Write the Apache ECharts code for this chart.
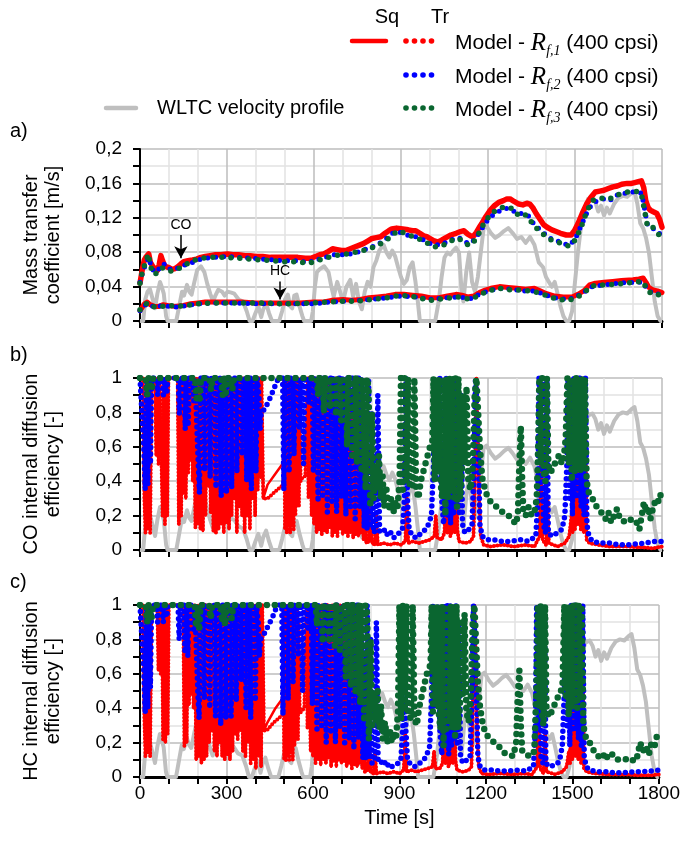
<!DOCTYPE html>
<html><head><meta charset="utf-8">
<script src="https://cdn.jsdelivr.net/npm/echarts/dist/echarts.min.js"></script>
<style>html,body{margin:0;padding:0;background:#fff}#c{width:683px;height:858px}</style>
</head><body><div id="c"></div>
<script>
const FONT = '"Liberation Sans", Arial, sans-serif';
const SERIF = '"Liberation Serif", "Times New Roman", serif';

// ---- X ticks ----
const timeTicks = [0, 300, 600, 900, 1200, 1500, 1800];

// ---- WLTC velocity profile [s, km/h] ----
const wltcVelocity = [[0,0],[11,0],[18,22],[26,30],[34,33],[44,22],[52,13],[60,28],[69,40],[76,34],[82,28],[90,5],[95,0],[125,0],[135,15],[145,30],[152,26],[162,37],[170,30],[178,27],[186,38],[197,52],[210,56],[222,50],[232,38],[242,28],[252,20],[260,26],[270,32],[283,30],[292,26],[302,30],[315,29],[325,28],[340,22],[355,20],[368,10],[378,0],[388,0],[398,8],[408,15],[418,4],[425,12],[435,18],[445,8],[455,0],[480,0],[490,10],[500,22],[510,27],[518,15],[525,13],[532,26],[540,27],[550,15],[560,5],[566,0],[590,0],[596,10],[603,35],[610,50],[620,53],[635,56],[650,50],[660,35],[668,25],[680,40],[690,30],[700,20],[712,35],[725,42],[735,25],[745,38],[755,20],[765,12],[775,30],[785,40],[795,35],[805,55],[815,62],[825,72],[840,78],[850,70],[860,65],[870,72],[880,66],[890,55],[900,45],[910,38],[920,42],[930,55],[940,60],[950,40],[958,20],[965,0],[1018,0],[1030,20],[1040,45],[1050,65],[1060,70],[1070,68],[1080,72],[1090,75],[1100,70],[1108,35],[1115,20],[1125,50],[1135,70],[1145,40],[1155,30],[1165,45],[1175,70],[1185,95],[1195,97],[1210,90],[1225,85],[1240,88],[1255,92],[1270,95],[1285,90],[1300,84],[1315,86],[1330,80],[1345,86],[1360,78],[1375,60],[1390,55],[1400,45],[1410,40],[1420,35],[1430,40],[1440,28],[1450,15],[1460,5],[1470,0],[1480,0],[1490,10],[1500,40],[1510,70],[1520,95],[1530,112],[1545,125],[1560,127],[1570,122],[1580,112],[1590,118],[1600,108],[1610,116],[1620,110],[1635,120],[1650,126],[1665,128],[1680,127],[1695,131],[1705,133],[1715,120],[1725,100],[1735,95],[1745,85],[1755,70],[1765,45],[1775,20],[1785,5],[1795,0],[1800,0]];

// ---- Panel a: mass transfer coefficient [m/s] ----
const coRf1A = [[0,0.044],[8,0.06],[15,0.071],[22,0.075],[30,0.078],[36,0.068],[45,0.063],[52,0.061],[60,0.059],[66,0.065],[72,0.076],[78,0.07],[85,0.064],[92,0.063],[100,0.062],[110,0.06],[121,0.061],[130,0.063],[140,0.066],[151,0.069],[165,0.07],[181,0.071],[195,0.072],[210,0.074],[225,0.075],[242,0.076],[260,0.077],[280,0.077],[302,0.078],[320,0.077],[340,0.077],[362,0.076],[380,0.076],[400,0.075],[423,0.075],[450,0.074],[483,0.074],[510,0.074],[544,0.074],[570,0.073],[589,0.073],[605,0.075],[620,0.077],[634,0.078],[650,0.081],[664,0.084],[680,0.083],[695,0.082],[710,0.082],[725,0.084],[740,0.086],[755,0.088],[770,0.09],[785,0.093],[800,0.096],[815,0.097],[830,0.098],[845,0.102],[858,0.105],[868,0.107],[885,0.108],[906,0.107],[925,0.106],[940,0.105],[951,0.105],[965,0.102],[978,0.099],[989,0.098],[1005,0.095],[1015,0.093],[1027,0.092],[1040,0.094],[1055,0.097],[1072,0.1],[1090,0.102],[1105,0.104],[1117,0.105],[1130,0.101],[1140,0.099],[1148,0.098],[1160,0.103],[1170,0.109],[1178,0.113],[1190,0.12],[1200,0.125],[1208,0.129],[1222,0.134],[1237,0.138],[1253,0.14],[1265,0.142],[1276,0.142],[1290,0.139],[1306,0.136],[1320,0.135],[1334,0.137],[1344,0.136],[1356,0.131],[1366,0.125],[1380,0.118],[1392,0.112],[1404,0.109],[1420,0.106],[1435,0.104],[1450,0.102],[1470,0.1],[1487,0.1],[1498,0.105],[1510,0.113],[1525,0.125],[1540,0.136],[1555,0.144],[1570,0.15],[1585,0.151],[1600,0.152],[1615,0.154],[1631,0.156],[1646,0.157],[1661,0.159],[1680,0.16],[1695,0.16],[1706,0.161],[1718,0.162],[1729,0.163],[1737,0.155],[1744,0.14],[1752,0.132],[1759,0.129],[1770,0.127],[1782,0.125],[1792,0.118],[1800,0.109]];
const coRf2A = [[0,0.045],[10,0.058],[20,0.066],[30,0.074],[40,0.062],[50,0.057],[60,0.058],[75,0.066],[90,0.066],[105,0.06],[120,0.06],[140,0.063],[160,0.066],[180,0.068],[200,0.071],[230,0.073],[260,0.074],[300,0.075],[340,0.074],[380,0.073],[420,0.072],[460,0.071],[500,0.07],[540,0.07],[580,0.068],[610,0.071],[640,0.074],[670,0.077],[700,0.077],[730,0.078],[760,0.081],[790,0.085],[820,0.089],[850,0.096],[870,0.102],[890,0.104],[920,0.1],[950,0.098],[980,0.094],[1010,0.088],[1040,0.089],[1070,0.094],[1100,0.097],[1120,0.092],[1140,0.09],[1160,0.097],[1180,0.108],[1200,0.118],[1220,0.124],[1240,0.128],[1260,0.131],[1280,0.13],[1300,0.125],[1320,0.125],[1340,0.122],[1360,0.112],[1380,0.106],[1400,0.1],[1420,0.095],[1440,0.093],[1460,0.09],[1480,0.088],[1500,0.095],[1520,0.11],[1540,0.125],[1560,0.137],[1580,0.14],[1600,0.142],[1620,0.14],[1640,0.146],[1660,0.148],[1680,0.149],[1700,0.15],[1720,0.15],[1730,0.148],[1740,0.13],[1750,0.112],[1765,0.108],[1780,0.106],[1790,0.102],[1800,0.1]];
const coRf3A = [[0,0.044],[10,0.06],[20,0.068],[28,0.078],[38,0.062],[50,0.054],[62,0.057],[75,0.062],[90,0.06],[105,0.058],[120,0.059],[140,0.062],[160,0.066],[180,0.07],[200,0.072],[230,0.074],[260,0.074],[300,0.074],[340,0.073],[380,0.072],[420,0.071],[460,0.07],[500,0.069],[540,0.069],[580,0.067],[610,0.07],[640,0.073],[670,0.076],[700,0.077],[730,0.079],[760,0.081],[790,0.084],[820,0.088],[850,0.094],[870,0.1],[890,0.105],[920,0.101],[950,0.097],[980,0.093],[1010,0.086],[1040,0.087],[1070,0.093],[1100,0.096],[1120,0.09],[1140,0.088],[1160,0.096],[1180,0.11],[1200,0.12],[1220,0.127],[1240,0.131],[1260,0.133],[1280,0.131],[1300,0.124],[1320,0.126],[1340,0.12],[1360,0.11],[1380,0.104],[1400,0.098],[1420,0.094],[1440,0.092],[1460,0.089],[1480,0.087],[1500,0.094],[1520,0.108],[1540,0.127],[1560,0.14],[1580,0.142],[1600,0.143],[1620,0.142],[1640,0.146],[1660,0.148],[1680,0.15],[1700,0.15],[1720,0.151],[1730,0.146],[1740,0.128],[1750,0.11],[1765,0.11],[1780,0.105],[1790,0.1],[1800,0.1]];
const hcRf1A = [[0,0.012],[8,0.016],[15,0.02],[25,0.022],[35,0.019],[50,0.017],[65,0.017],[80,0.019],[95,0.018],[120,0.017],[150,0.018],[175,0.02],[200,0.021],[225,0.022],[250,0.022],[300,0.022],[350,0.022],[400,0.021],[450,0.021],[500,0.021],[550,0.021],[600,0.022],[630,0.022],[660,0.024],[700,0.025],[730,0.024],[760,0.025],[790,0.027],[820,0.028],[850,0.029],[880,0.031],[910,0.031],[940,0.03],[970,0.029],[1000,0.027],[1030,0.027],[1060,0.029],[1090,0.031],[1110,0.03],[1130,0.028],[1150,0.029],[1170,0.033],[1190,0.036],[1210,0.038],[1240,0.04],[1270,0.039],[1300,0.038],[1330,0.037],[1360,0.038],[1380,0.035],[1400,0.032],[1430,0.029],[1460,0.028],[1490,0.028],[1510,0.031],[1530,0.035],[1550,0.042],[1570,0.044],[1600,0.045],[1630,0.046],[1660,0.047],[1700,0.048],[1720,0.049],[1735,0.05],[1745,0.045],[1755,0.039],[1770,0.036],[1785,0.035],[1800,0.033]];
const hcRf2A = [[0,0.012],[15,0.018],[30,0.02],[50,0.016],[75,0.018],[100,0.017],[130,0.016],[160,0.018],[200,0.02],[250,0.021],[300,0.021],[400,0.02],[500,0.02],[600,0.02],[650,0.022],[700,0.023],[750,0.024],[800,0.025],[850,0.027],[900,0.029],[950,0.028],[1000,0.025],[1050,0.027],[1100,0.028],[1140,0.026],[1170,0.031],[1200,0.035],[1240,0.038],[1280,0.037],[1320,0.035],[1360,0.035],[1400,0.03],[1440,0.026],[1480,0.025],[1520,0.031],[1560,0.04],[1600,0.042],[1650,0.044],[1700,0.045],[1735,0.045],[1750,0.036],[1770,0.032],[1800,0.031]];
const hcRf3A = [[0,0.013],[15,0.019],[30,0.021],[50,0.016],[75,0.017],[100,0.018],[130,0.017],[160,0.018],[200,0.02],[250,0.021],[300,0.021],[400,0.021],[500,0.02],[600,0.021],[650,0.022],[700,0.023],[750,0.023],[800,0.025],[850,0.027],[900,0.03],[950,0.028],[1000,0.024],[1050,0.026],[1100,0.028],[1140,0.025],[1170,0.03],[1200,0.035],[1240,0.038],[1280,0.036],[1320,0.036],[1360,0.034],[1400,0.03],[1440,0.025],[1480,0.024],[1520,0.03],[1560,0.041],[1600,0.042],[1650,0.043],[1700,0.045],[1735,0.046],[1750,0.035],[1770,0.031],[1800,0.03]];

// ---- Panel b: CO internal diffusion efficiency [-] ----
const coRedEarly = [[0,1],[10,1],[15,0.3],[19,0.1],[23,1],[27,0.12],[31,1],[35,0.1],[40,1],[52,1],[56,0.55],[60,1],[64,0.5],[68,1],[74,1],[78,0.2],[82,1],[86,0.15],[90,1],[94,0.2],[98,1],[130,1],[134,0.15],[138,1],[142,0.2],[146,1],[150,0.33],[154,1],[158,0.3],[162,1],[166,0.45],[170,1],[174,0.52],[178,1],[182,0.4],[186,1],[191,0.13],[195,1],[200,0.15],[204,1],[208,0.12],[212,1],[217,0.11],[221,1],[226,0.2],[230,1],[235,0.37],[239,1],[244,0.22],[248,1],[253,0.11],[257,1],[262,0.1],[266,1],[271,0.12],[275,1],[280,0.15],[284,1],[289,0.1],[293,1],[298,0.16],[302,1],[307,0.12],[311,1],[316,0.2],[320,1],[325,0.3],[329,1],[334,0.1],[338,1],[343,0.25],[347,1],[352,0.2],[356,1],[361,0.1],[365,1],[370,0.2],[374,1],[379,0.12],[383,1],[388,0.3],[392,1],[397,0.2],[401,1],[406,0.35],[410,1],[415,0.42],[419,1],[425,0.3]];
const coTrMid = [[440,0.3],[460,0.33],[480,0.36],[494,0.38],[497,1],[500,0.12],[503,1],[506,0.1],[509,1],[512,0.14],[515,1],[518,0.1],[521,0.95],[524,0.15],[527,1],[530,0.12],[533,1],[536,0.2],[539,0.95],[542,0.3],[545,1],[548,0.25],[551,0.9],[554,0.4],[560,0.42],[570,0.43],[575,0.44],[578,1],[581,0.3],[584,1]];
const coSqMid = [[440,0.38],[470,0.45],[500,0.52],[530,0.57],[560,0.61],[585,0.64],[588,1]];
const coRedLate = [[592,0.2],[596,1],[600,0.15],[604,1],[609,0.1],[613,1],[618,0.12],[622,1],[627,0.09],[631,1],[636,0.11],[640,1],[645,0.1],[649,1],[654,0.13],[658,1],[663,0.08],[667,1],[672,0.1],[676,1],[681,0.08],[685,1],[690,0.12],[694,1],[699,0.09],[703,1],[708,0.1],[712,0.9],[717,0.08],[721,1],[726,0.1],[730,0.85],[735,0.07],[739,1],[744,0.09],[748,0.8],[753,0.08],[757,0.9],[762,0.1],[766,0.6],[771,0.06],[776,0.5],[780,0.04],[790,0.05],[795,0.3],[800,0.04],[810,0.03],[815,0.2],[820,0.03],[840,0.04],[860,0.03],[880,0.04],[900,0.03],[915,0.05],[920,0.3],[925,0.04],[940,0.05],[960,0.04],[980,0.05],[1000,0.06],[1015,0.08],[1020,0.2],[1025,0.07],[1040,0.06],[1050,0.1],[1055,0.5],[1060,0.1],[1065,0.6],[1070,0.08],[1078,0.12],[1082,0.9],[1086,0.1],[1090,0.95],[1094,0.12],[1100,0.05],[1120,0.04],[1140,0.05],[1150,0.08],[1155,0.4],[1160,1],[1166,1],[1170,0.3],[1175,0.08],[1185,0.03],[1210,0.02],[1250,0.03],[1290,0.02],[1330,0.03],[1360,0.02],[1378,0.08],[1383,0.5],[1388,0.06],[1400,0.03],[1405,0.3],[1410,0.04],[1440,0.02],[1465,0.04],[1480,0.08],[1488,0.2],[1492,0.1],[1496,0.9],[1500,0.12],[1505,1],[1510,0.15],[1515,1],[1520,0.12],[1525,1],[1530,0.1],[1535,0.95],[1540,0.06],[1550,0.04],[1580,0.03],[1620,0.02],[1680,0.02],[1730,0.015],[1770,0.01],[1800,0.02]];
const coRf2B = [[0,1],[13,0.6],[18,0.35],[22,1],[27,0.38],[31,1],[36,0.5],[40,1],[58,1],[61,0.9],[64,1],[78,1],[81,0.9],[84,1],[90,1],[93,0.92],[96,1],[132,1],[136,0.79],[140,1],[152,1],[156,0.7],[160,1],[166,0.72],[170,1],[182,1],[186,0.85],[190,1],[196,1],[201,0.5],[205,0.33],[209,1],[218,1],[223,0.46],[227,1],[238,1],[242,0.42],[246,1],[258,1],[262,0.36],[266,1],[276,1],[280,0.31],[284,1],[294,1],[298,0.33],[302,1],[312,1],[316,0.36],[320,1],[330,1],[334,0.45],[338,1],[348,1],[352,0.55],[356,1],[364,1],[368,0.4],[372,1],[380,1],[384,0.35],[388,1],[396,1],[400,0.45],[404,1],[410,0.9],[414,0.7],[418,0.8],[430,0.82],[445,0.87],[460,0.93],[472,0.98],[480,1],[492,1],[496,0.35],[500,1],[510,1],[514,0.45],[518,1],[527,1],[531,0.55],[535,1],[545,1],[549,0.7],[553,1],[560,1],[564,0.5],[568,1],[578,1],[582,0.85],[586,1],[594,1],[598,0.45],[602,1],[610,1],[614,0.28],[618,1],[626,1],[630,0.3],[634,1],[642,1],[646,0.22],[650,1],[658,1],[662,0.28],[666,1],[674,1],[678,0.22],[682,1],[690,1],[694,0.3],[698,1],[706,1],[710,0.2],[714,1],[722,1],[726,0.25],[730,1],[738,1],[742,0.18],[746,1],[754,1],[758,0.25],[762,1],[768,0.9],[773,0.13],[778,0.7],[783,0.12],[788,1],[794,0.13],[800,0.8],[805,0.1],[815,0.12],[820,0.9],[826,0.11],[835,0.1],[845,0.12],[855,0.08],[865,0.1],[875,0.07],[885,0.09],[895,0.1],[905,0.12],[912,0.3],[917,1],[922,0.3],[928,0.12],[940,0.08],[955,0.07],[970,0.1],[985,0.12],[995,0.15],[1005,0.2],[1012,0.5],[1016,1],[1020,0.4],[1024,1],[1030,0.5],[1034,1],[1040,0.3],[1047,0.15],[1052,0.4],[1056,1],[1061,0.2],[1066,1],[1071,0.15],[1076,1],[1081,0.2],[1086,1],[1091,0.25],[1096,1],[1101,0.2],[1106,0.9],[1112,0.15],[1120,0.1],[1135,0.12],[1145,0.15],[1152,0.5],[1157,1],[1162,1],[1167,0.6],[1172,0.15],[1180,0.08],[1195,0.06],[1220,0.06],[1250,0.05],[1280,0.05],[1310,0.06],[1340,0.05],[1365,0.08],[1372,0.3],[1376,1],[1381,0.3],[1386,1],[1391,0.15],[1398,0.1],[1403,1],[1408,0.1],[1420,0.08],[1440,0.1],[1455,0.12],[1465,0.2],[1472,0.5],[1476,1],[1481,0.3],[1486,1],[1491,0.2],[1496,1],[1501,0.3],[1506,1],[1511,0.3],[1516,1],[1521,0.25],[1526,1],[1531,0.2],[1536,1],[1541,0.15],[1548,0.08],[1560,0.05],[1590,0.04],[1620,0.04],[1650,0.03],[1680,0.03],[1710,0.035],[1740,0.04],[1770,0.05],[1800,0.05]];
const coRf3B = [[0,1],[20,1],[25,0.9],[30,1],[40,0.93],[45,1],[190,1],[195,0.88],[200,1],[205,0.86],[210,1],[240,1],[245,0.93],[250,1],[280,1],[285,0.9],[290,1],[295,0.89],[300,1],[312,1],[318,0.93],[324,1],[600,1],[610,1],[614,0.9],[618,1],[630,1],[634,0.8],[638,1],[652,1],[656,0.82],[660,1],[672,1],[676,0.78],[680,1],[690,1],[694,0.75],[698,1],[710,1],[714,0.6],[718,1],[728,1],[732,0.55],[736,1],[744,1],[748,0.5],[752,1],[760,1],[764,0.45],[768,1],[774,1],[778,0.35],[782,1],[788,0.95],[794,0.25],[800,0.8],[806,0.3],[812,0.5],[818,0.35],[824,0.55],[830,0.3],[836,0.45],[842,0.25],[850,0.35],[858,0.23],[866,0.3],[874,0.22],[882,0.28],[888,0.25],[895,0.4],[900,1],[906,0.35],[912,1],[918,0.4],[924,1],[930,0.38],[940,0.36],[946,1],[952,0.36],[960,0.3],[968,0.4],[976,0.45],[984,0.5],[992,0.55],[1000,0.6],[1008,0.62],[1012,1],[1016,0.4],[1020,1],[1026,0.45],[1030,1],[1036,0.4],[1042,0.3],[1048,1],[1053,0.2],[1058,1],[1063,0.3],[1068,1],[1073,0.35],[1078,1],[1083,0.3],[1088,1],[1093,0.25],[1098,1],[1104,0.3],[1110,0.45],[1115,0.9],[1120,0.5],[1126,0.95],[1132,0.4],[1140,0.35],[1148,0.5],[1154,0.9],[1160,1],[1166,1],[1172,0.6],[1180,0.42],[1190,0.35],[1200,0.3],[1215,0.27],[1230,0.25],[1250,0.22],[1270,0.2],[1285,0.18],[1295,0.15],[1303,0.2],[1308,0.5],[1313,0.72],[1318,0.4],[1322,0.22],[1330,0.2],[1340,0.25],[1350,0.2],[1360,0.22],[1368,0.3],[1373,0.6],[1377,1],[1382,0.5],[1387,1],[1392,0.45],[1398,0.4],[1403,1],[1408,0.5],[1415,0.45],[1425,0.48],[1435,0.52],[1445,0.55],[1455,0.5],[1462,0.55],[1468,0.65],[1474,1],[1479,0.5],[1484,1],[1489,0.4],[1494,1],[1499,0.45],[1504,1],[1509,0.5],[1514,1],[1519,0.45],[1524,1],[1529,0.5],[1534,1],[1540,0.4],[1548,0.33],[1560,0.3],[1575,0.25],[1590,0.22],[1605,0.18],[1615,0.22],[1625,0.16],[1635,0.2],[1645,0.24],[1655,0.18],[1665,0.17],[1680,0.16],[1695,0.18],[1710,0.17],[1722,0.12],[1730,0.2],[1738,0.28],[1745,0.22],[1752,0.25],[1760,0.18],[1770,0.25],[1780,0.3],[1790,0.28],[1800,0.36]];

// ---- Panel c: HC internal diffusion efficiency [-] ----
const hcRedEarly = [[0,1],[10,1],[15,0.35],[19,0.12],[23,1],[27,0.14],[31,1],[35,0.12],[40,1],[60,1],[64,0.62],[68,1],[72,0.6],[76,1],[80,0.22],[84,1],[88,0.2],[92,1],[96,0.25],[100,1],[150,1],[154,0.18],[158,1],[162,0.2],[166,1],[170,0.42],[174,1],[178,0.48],[182,1],[186,0.4],[190,1],[195,0.1],[199,1],[204,0.12],[208,1],[213,0.08],[217,1],[222,0.1],[226,1],[231,0.12],[235,1],[240,0.2],[244,1],[249,0.27],[253,1],[258,0.15],[262,1],[267,0.12],[271,1],[276,0.2],[280,1],[285,0.12],[289,1],[294,0.1],[298,1],[303,0.13],[307,1],[312,0.1],[316,1],[321,0.15],[325,1],[330,0.25],[334,1],[339,0.22],[343,1],[348,0.27],[352,1],[357,0.15],[361,1],[366,0.12],[370,1],[375,0.2],[379,1],[384,0.08],[388,1],[393,0.1],[397,1],[402,0.05],[406,1],[411,0.12],[415,1],[420,0.06],[424,1],[430,0.27]];
const hcTrMid = [[440,0.27],[460,0.31],[480,0.34],[494,0.36],[497,1],[500,0.1],[503,1],[506,0.09],[509,1],[512,0.12],[515,1],[518,0.09],[521,0.95],[524,0.14],[527,1],[530,0.1],[533,1],[536,0.18],[539,0.95],[542,0.28],[545,1],[548,0.22],[551,0.9],[554,0.37],[560,0.38],[570,0.4],[575,0.41],[578,1],[581,0.28],[584,1]];
const hcSqMid = [[440,0.31],[470,0.4],[500,0.47],[530,0.53],[560,0.58],[585,0.62],[588,1]];
const hcRedLate = [[592,0.15],[596,1],[600,0.12],[604,1],[609,0.08],[613,1],[618,0.1],[622,1],[627,0.07],[631,1],[636,0.1],[640,1],[645,0.08],[649,1],[654,0.11],[658,1],[663,0.06],[667,1],[672,0.09],[676,1],[681,0.06],[685,1],[690,0.1],[694,1],[699,0.08],[703,1],[708,0.09],[712,0.9],[717,0.06],[721,1],[726,0.08],[730,0.85],[735,0.05],[739,1],[744,0.07],[748,0.8],[753,0.06],[757,0.9],[762,0.08],[766,0.6],[771,0.05],[776,0.5],[780,0.03],[790,0.04],[795,0.25],[800,0.03],[810,0.02],[815,0.15],[820,0.02],[840,0.03],[860,0.02],[880,0.03],[900,0.02],[915,0.04],[920,0.25],[925,0.03],[940,0.04],[960,0.03],[980,0.04],[1000,0.05],[1015,0.06],[1020,0.15],[1025,0.05],[1040,0.05],[1050,0.08],[1055,0.45],[1060,0.08],[1065,0.55],[1070,0.06],[1078,0.1],[1082,0.9],[1086,0.08],[1090,0.95],[1094,0.1],[1100,0.04],[1120,0.03],[1140,0.04],[1150,0.06],[1155,0.4],[1160,1],[1166,1],[1170,0.25],[1175,0.06],[1185,0.02],[1210,0.015],[1250,0.02],[1290,0.015],[1330,0.02],[1360,0.015],[1378,0.06],[1383,0.45],[1388,0.05],[1400,0.02],[1405,0.25],[1410,0.03],[1440,0.015],[1465,0.03],[1480,0.06],[1488,0.15],[1492,0.08],[1496,0.9],[1500,0.1],[1505,1],[1510,0.12],[1515,1],[1520,0.1],[1525,1],[1530,0.08],[1535,0.95],[1540,0.05],[1550,0.03],[1580,0.02],[1620,0.015],[1680,0.015],[1730,0.01],[1770,0.01],[1800,0.015]];
const hcRf2C = [[0,1],[13,0.62],[18,0.37],[22,1],[27,0.4],[31,1],[36,0.52],[40,1],[58,1],[61,0.9],[64,1],[78,1],[81,0.9],[84,1],[90,1],[93,0.93],[96,1],[132,1],[136,0.8],[140,1],[152,1],[156,0.72],[160,1],[166,0.7],[170,1],[182,1],[186,0.84],[190,1],[196,1],[201,0.48],[205,0.34],[209,1],[218,1],[223,0.45],[227,1],[238,1],[242,0.4],[246,1],[258,1],[262,0.35],[266,1],[276,1],[280,0.3],[284,1],[294,1],[298,0.34],[302,1],[312,1],[316,0.35],[320,1],[330,1],[334,0.44],[338,1],[348,1],[352,0.56],[356,1],[364,1],[368,0.4],[372,1],[380,1],[384,0.34],[388,1],[396,1],[400,0.44],[404,1],[410,0.9],[414,0.7],[418,0.8],[430,0.83],[445,0.88],[460,0.93],[472,0.98],[480,1],[492,1],[496,0.36],[500,1],[510,1],[514,0.45],[518,1],[527,1],[531,0.55],[535,1],[545,1],[549,0.7],[553,1],[560,1],[564,0.5],[568,1],[578,1],[582,0.85],[586,1],[594,1],[598,0.42],[602,1],[610,1],[614,0.26],[618,1],[626,1],[630,0.28],[634,1],[642,1],[646,0.2],[650,1],[658,1],[662,0.25],[666,1],[674,1],[678,0.2],[682,1],[690,1],[694,0.28],[698,1],[706,1],[710,0.18],[714,1],[722,1],[726,0.22],[730,1],[738,1],[742,0.16],[746,1],[754,1],[758,0.22],[762,1],[768,0.9],[773,0.11],[778,0.7],[783,0.1],[788,1],[794,0.11],[800,0.8],[805,0.08],[815,0.1],[820,0.9],[826,0.09],[835,0.08],[845,0.1],[855,0.06],[865,0.08],[875,0.06],[885,0.07],[895,0.08],[905,0.1],[912,0.3],[917,1],[922,0.28],[928,0.1],[940,0.07],[955,0.06],[970,0.08],[985,0.1],[995,0.13],[1005,0.18],[1012,0.5],[1016,1],[1020,0.4],[1024,1],[1030,0.45],[1034,1],[1040,0.28],[1047,0.13],[1052,0.4],[1056,1],[1061,0.18],[1066,1],[1071,0.13],[1076,1],[1081,0.18],[1086,1],[1091,0.22],[1096,1],[1101,0.18],[1106,0.9],[1112,0.12],[1120,0.08],[1135,0.1],[1145,0.12],[1152,0.5],[1157,1],[1162,1],[1167,0.55],[1172,0.12],[1180,0.06],[1195,0.04],[1220,0.04],[1250,0.035],[1280,0.035],[1310,0.04],[1340,0.035],[1365,0.06],[1372,0.3],[1376,1],[1381,0.28],[1386,1],[1391,0.12],[1398,0.08],[1403,1],[1408,0.08],[1420,0.06],[1440,0.07],[1455,0.09],[1465,0.18],[1472,0.5],[1476,1],[1481,0.28],[1486,1],[1491,0.18],[1496,1],[1501,0.28],[1506,1],[1511,0.28],[1516,1],[1521,0.22],[1526,1],[1531,0.18],[1536,1],[1541,0.12],[1548,0.06],[1560,0.04],[1590,0.03],[1620,0.03],[1650,0.025],[1680,0.025],[1710,0.03],[1740,0.03],[1770,0.035],[1800,0.04]];
const hcRf3C = [[0,1],[20,1],[25,0.9],[30,1],[40,0.92],[45,1],[190,1],[195,0.87],[200,1],[205,0.85],[210,1],[240,1],[245,0.92],[250,1],[280,1],[285,0.9],[290,1],[295,0.88],[300,1],[312,1],[318,0.92],[324,1],[600,1],[610,1],[614,0.88],[618,1],[630,1],[634,0.78],[638,1],[652,1],[656,0.8],[660,1],[672,1],[676,0.76],[680,1],[690,1],[694,0.72],[698,1],[710,1],[714,0.58],[718,1],[728,1],[732,0.52],[736,1],[744,1],[748,0.48],[752,1],[760,1],[764,0.42],[768,1],[774,1],[778,0.32],[782,1],[788,0.95],[794,0.22],[800,0.8],[806,0.28],[812,0.48],[818,0.32],[824,0.52],[830,0.28],[836,0.42],[842,0.22],[850,0.32],[858,0.2],[866,0.28],[874,0.2],[882,0.26],[888,0.22],[895,0.38],[900,1],[906,0.33],[912,1],[918,0.38],[924,1],[930,0.36],[940,0.34],[946,1],[952,0.34],[960,0.3],[968,0.4],[976,0.46],[984,0.52],[992,0.58],[1000,0.63],[1008,0.65],[1012,1],[1016,0.38],[1020,1],[1026,0.42],[1030,1],[1036,0.38],[1042,0.28],[1048,1],[1053,0.18],[1058,1],[1063,0.28],[1068,1],[1073,0.32],[1078,1],[1083,0.28],[1088,1],[1093,0.22],[1098,1],[1104,0.28],[1110,0.42],[1115,0.9],[1120,0.48],[1126,0.95],[1132,0.38],[1140,0.32],[1148,0.48],[1154,0.9],[1160,1],[1166,1],[1172,0.55],[1180,0.4],[1190,0.3],[1200,0.25],[1215,0.22],[1230,0.2],[1250,0.17],[1265,0.14],[1280,0.13],[1295,0.12],[1305,0.2],[1310,0.45],[1316,0.62],[1321,0.3],[1326,0.15],[1340,0.13],[1355,0.12],[1368,0.15],[1375,0.5],[1380,1],[1385,0.4],[1390,1],[1395,0.35],[1400,0.3],[1405,1],[1410,0.4],[1418,0.35],[1428,0.38],[1438,0.42],[1448,0.46],[1458,0.48],[1466,0.55],[1472,1],[1477,0.45],[1482,1],[1487,0.35],[1492,1],[1497,0.4],[1502,1],[1507,0.42],[1512,1],[1517,0.4],[1522,1],[1527,0.45],[1532,1],[1538,0.3],[1548,0.22],[1560,0.2],[1575,0.15],[1590,0.12],[1605,0.14],[1615,0.1],[1625,0.13],[1635,0.14],[1645,0.11],[1660,0.1],[1680,0.1],[1700,0.11],[1715,0.09],[1725,0.12],[1735,0.2],[1745,0.15],[1755,0.18],[1765,0.13],[1775,0.2],[1785,0.18],[1795,0.25],[1800,0.27]];

const coTrB = coRedEarly.concat(coTrMid, coRedLate);
const coSqB = coRedEarly.concat(coSqMid, coRedLate);
const hcTrC = hcRedEarly.concat(hcTrMid, hcRedLate);
const hcSqC = hcRedEarly.concat(hcSqMid, hcRedLate);

// ---- colours ----
const RED = '#ff0000', BLUE = '#0000ff', GREEN = '#0a6630', GRAY = '#bfbfbf';

const chart = echarts.init(document.getElementById('c'), null, {renderer: 'canvas'});

const tops = [149, 378, 605];
const grids = tops.map(t => ({left: 140, right: 21, top: t, height: 172}));

const xAxes = tops.map((t, i) => ({
  type: 'value', gridIndex: i, min: 0, max: 1800, interval: 300,
  axisLine: {show: true, onZero: false, lineStyle: {color: '#000', width: 3}},
  axisTick: {show: true, length: 7, lineStyle: {color: '#000', width: 2}},
  minorTick: {show: true, splitNumber: 3, length: 7, lineStyle: {color: '#000', width: 2}},
  splitLine: {show: true, lineStyle: {color: '#bdbdbd', width: 1.5}},
  minorSplitLine: {show: true, lineStyle: {color: '#e2e2e2', width: 1.5}},
  axisLabel: {show: i === 2, fontSize: 19, color: '#000', fontFamily: FONT, margin: 7,
    formatter: v => String(v)},
  name: i === 2 ? 'Time [s]' : '', nameLocation: 'middle', nameGap: 31,
  nameTextStyle: {fontSize: 20, color: '#000', fontFamily: FONT}
}));

const yNames = ['Mass transfer\ncoefficient [m/s]', 'CO internal diffusion\nefficiency [-]', 'HC internal diffusion\nefficiency [-]'];
const yAxes = [];
tops.forEach((t, i) => {
  yAxes.push({
    type: 'value', gridIndex: i, min: 0, max: i === 0 ? 0.2 : 1, interval: i === 0 ? 0.04 : 0.2,
    axisLine: {show: true, lineStyle: {color: '#000', width: 2}},
    axisTick: {show: true, length: 7, lineStyle: {color: '#000', width: 2}},
    minorTick: {show: true, splitNumber: 2, length: 7, lineStyle: {color: '#000', width: 2}},
    splitLine: {show: true, lineStyle: {color: '#bdbdbd', width: 1.5}},
    minorSplitLine: {show: true, lineStyle: {color: '#e2e2e2', width: 1.5}},
    axisLabel: {fontSize: 19, color: '#000', fontFamily: FONT, margin: 18,
      formatter: v => String(+v.toFixed(2)).replace('.', ',')},
    name: yNames[i], nameLocation: 'middle', nameGap: 76, nameRotate: 90,
    nameTextStyle: {fontSize: 20, color: '#000', fontFamily: FONT, lineHeight: 22}
  });
  yAxes.push({type: 'value', gridIndex: i, min: 0, max: i === 0 ? 176 : 160, show: false});
});

function solid(data, gi, color, width, z, extra) {
  return Object.assign({type: 'line', xAxisIndex: gi, yAxisIndex: gi * 2, data, showSymbol: false,
    symbol: 'none', silent: true, animation: false, z,
    lineStyle: {color, width, join: 'round', cap: 'round'}}, extra || {});
}
function dotted(data, gi, color, size, gap, z) {
  return {type: 'line', xAxisIndex: gi, yAxisIndex: gi * 2, data, showSymbol: false,
    symbol: 'none', silent: true, animation: false, z,
    lineStyle: {color, width: size, type: [0, gap], cap: 'round', join: 'round'}};
}
function velocity(gi) {
  return {type: 'line', xAxisIndex: gi, yAxisIndex: gi * 2 + 1, data: wltcVelocity, showSymbol: false,
    symbol: 'none', silent: true, animation: false, z: 1,
    lineStyle: {color: GRAY, width: 4, join: 'round'}};
}

const arrowSeries = {
  type: 'line', xAxisIndex: 0, yAxisIndex: 0, data: [], silent: true, animation: false, z: 10,
  markLine: {
    silent: true, animation: false, symbol: ['none', 'arrow'], symbolSize: [10, 12],
    lineStyle: {color: '#000', width: 1.5, type: 'solid'},
    label: {show: true, position: 'start', fontSize: 14, color: '#000', fontFamily: FONT, distance: 3,
      textBorderWidth: 0, formatter: p => p.name},
    data: [
      [{name: 'CO', coord: [141, 0.1]}, {coord: [141, 0.073]}],
      [{name: 'HC', coord: [483, 0.046]}, {coord: [483, 0.025]}]
    ]
  }
};

const series = [
  velocity(0),
  solid(coRf1A, 0, RED, 5.5, 3),
  solid(hcRf1A, 0, RED, 5, 3),
  dotted(coRf2A, 0, BLUE, 5, 8, 4),
  dotted(hcRf2A, 0, BLUE, 5, 8, 4),
  dotted(coRf3A, 0, GREEN, 5.5, 9, 5),
  dotted(hcRf3A, 0, GREEN, 5.5, 9, 5),
  arrowSeries,

  velocity(1),
  solid(coSqB, 1, RED, 2.5, 2),
  dotted(coTrB, 1, RED, 4, 3.5, 3),
  dotted(coRf2B, 1, BLUE, 5.5, 6.5, 4),
  dotted(coRf3B, 1, GREEN, 6.5, 8, 5),

  velocity(2),
  solid(hcSqC, 2, RED, 2.5, 2),
  dotted(hcTrC, 2, RED, 4, 3.5, 3),
  dotted(hcRf2C, 2, BLUE, 5.5, 6.5, 4),
  dotted(hcRf3C, 2, GREEN, 6.5, 8, 5)
];

// ---- legend & panel labels (graphic) ----
const txt = (x, y, text, align) => ({type: 'text', x, y, silent: true,
  style: {text, fontSize: 20, fontFamily: FONT, fill: '#000', align: align || 'left', verticalAlign: 'middle'}});
const rich = {
  n: {fontSize: 21, fontFamily: FONT, fill: '#000', lineHeight: 30, verticalAlign: 'middle'},
  r: {fontSize: 25, fontFamily: SERIF, fontStyle: 'italic', fill: '#000', lineHeight: 30, verticalAlign: 'middle'},
  s: {fontSize: 14, fontFamily: SERIF, fontStyle: 'italic', fill: '#000', lineHeight: 14, verticalAlign: 'bottom'}
};
const modelLabel = (y, k) => ({type: 'text', x: 455, y, silent: true,
  style: {text: '{n|Model - }{r|R}{s|f,' + k + '}{n| (400 cpsi)}', rich, verticalAlign: 'middle', align: 'left'}});
const dots = (x0, y, color) => [0, 1, 2, 3].map(k => ({type: 'circle', silent: true,
  shape: {cx: x0 + k * 8.5, cy: y, r: 2.8}, style: {fill: color}}));

const graphic = [
  txt(387, 17, 'Sq', 'center'),
  txt(440, 17, 'Tr', 'center'),
  {type: 'line', silent: true, shape: {x1: 352, y1: 41, x2: 386, y2: 41}, style: {stroke: RED, lineWidth: 4.5, lineCap: 'round'}},
  ...dots(406, 41, RED),
  ...dots(406, 75, BLUE),
  ...dots(406, 108, GREEN),
  modelLabel(43, 1),
  modelLabel(77, 2),
  modelLabel(110, 3),
  {type: 'line', silent: true, shape: {x1: 106, y1: 108, x2: 136, y2: 108}, style: {stroke: GRAY, lineWidth: 4.5, lineCap: 'round'}},
  txt(157, 108, 'WLTC velocity profile'),
  txt(10, 131, 'a)'),
  txt(10, 355, 'b)'),
  txt(10, 582, 'c)')
];

chart.setOption({
  animation: false,
  backgroundColor: '#fff',
  textStyle: {fontFamily: FONT},
  grid: grids,
  xAxis: xAxes,
  yAxis: yAxes,
  series,
  graphic
});
</script></body></html>
